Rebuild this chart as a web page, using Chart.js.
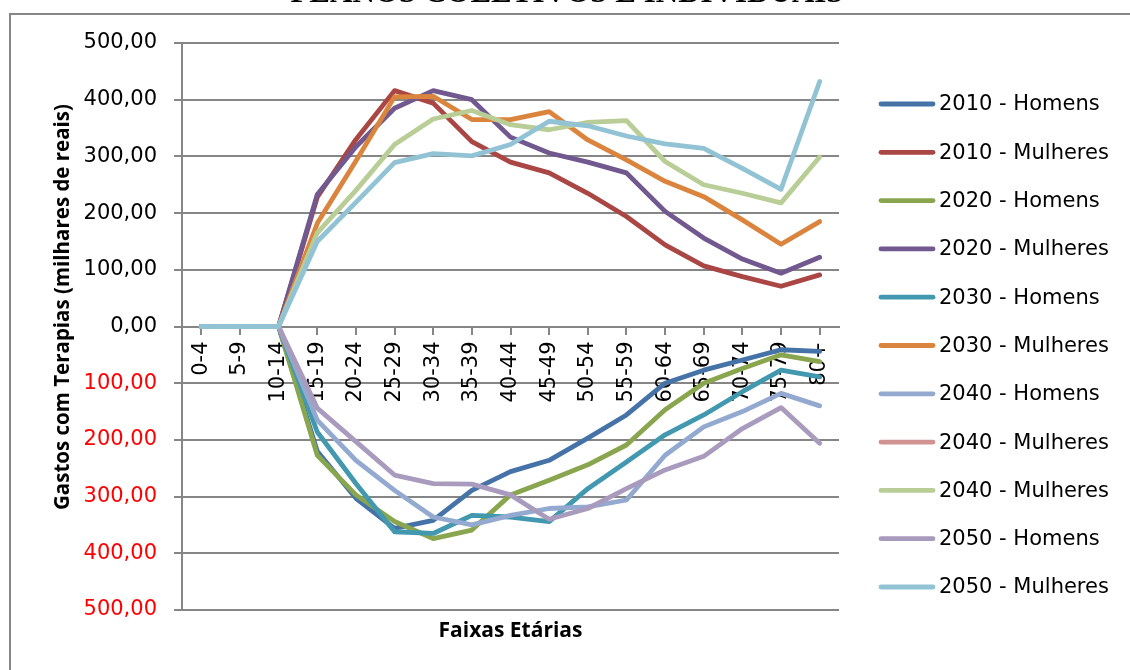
<!DOCTYPE html>
<html>
<head>
<meta charset="utf-8">
<script src="https://cdn.jsdelivr.net/npm/chart.js@4"></script>
<style>
  html, body { margin: 0; padding: 0; background: #fff; }
  #wrap { width: 1130px; height: 670px; position: relative; }
</style>
</head>
<body>
<div id="wrap"><canvas id="chart"></canvas></div>
<script>
// Faixas etárias
const faixas = ['0-4', '5-9', '10-14', '15-19', '20-24', '25-29', '30-34', '35-39', '40-44',
  '45-49', '50-54', '55-59', '60-64', '65-69', '70-74', '75-79', '80+'];

// Gastos (milhares de reais); homens abaixo do eixo
const h2010 = [0, 0, 0, -220, -303, -356, -342, -289, -256, -236, -197, -156, -100, -77, -59, -41, -44];
const m2010 = [0, 0, 0, 228, 330, 416, 394, 326, 290, 271, 235, 194, 144, 107, 88, 71, 91];
const h2020 = [0, 0, 0, -227, -297, -344, -374, -359, -297, -271, -244, -209, -147, -100, -74, -50, -62];
const m2020 = [0, 0, 0, 233, 317, 385, 416, 400, 334, 306, 290, 271, 203, 156, 119, 94, 122];
const h2030 = [0, 0, 0, -186, -277, -362, -365, -333, -336, -344, -286, -239, -191, -156, -115, -77, -89];
const m2030 = [0, 0, 0, 182, 292, 405, 406, 365, 365, 379, 329, 294, 256, 229, 188, 145, 185];
const h2040 = [0, 0, 0, -165, -236, -289, -336, -350, -333, -321, -318, -306, -227, -177, -150, -118, -140];
const m2040a = [];
const m2040 = [0, 0, 0, 165, 240, 321, 366, 381, 356, 347, 360, 363, 291, 250, 235, 218, 299];
const h2050 = [0, 0, 0, -144, -203, -262, -277, -278, -297, -340, -321, -286, -253, -229, -180, -143, -206];
const m2050 = [0, 0, 0, 150, 219, 289, 305, 301, 321, 362, 354, 336, 322, 314, 279, 242, 432];

const series = [
  { label: '2010 - Homens', data: h2010, color: '#4572A7' },
  { label: '2010 - Mulheres', data: m2010, color: '#AA4643' },
  { label: '2020 - Homens', data: h2020, color: '#89A54E' },
  { label: '2020 - Mulheres', data: m2020, color: '#71588F' },
  { label: '2030 - Homens', data: h2030, color: '#4198AF' },
  { label: '2030 - Mulheres', data: m2030, color: '#DB843D' },
  { label: '2040 - Homens', data: h2040, color: '#93A9CF' },
  { label: '2040 - Mulheres', data: m2040a, color: '#D19392' },
  { label: '2040 - Mulheres', data: m2040, color: '#B9CD96' },
  { label: '2050 - Homens', data: h2050, color: '#A99BBD' },
  { label: '2050 - Mulheres', data: m2050, color: '#91C3D5' }
];

const GRID = '#868686';
const FONT = 'DejaVu Sans';
const TITLE_FONT = 'Open Sans';

// frame, titles and legend drawn around the plot
const decor = {
  id: 'decor',
  beforeDraw(chart) {
    const ctx = chart.ctx;
    ctx.save();
    ctx.fillStyle = '#fff';
    ctx.fillRect(0, 0, chart.width, chart.height);
    ctx.strokeStyle = GRID;
    ctx.lineWidth = 2;
    ctx.beginPath();
    ctx.moveTo(10, chart.height + 5);
    ctx.lineTo(10, 14);
    ctx.lineTo(chart.width + 5, 14);
    ctx.stroke();
    // document heading, mostly above the page
    ctx.fillStyle = '#000';
    ctx.font = 'bold 31px "Liberation Serif"';
    ctx.textAlign = 'center';
    ctx.textBaseline = 'alphabetic';
    ctx.fillText('PLANOS COLETIVOS E INDIVIDUAIS', 567, 2);
    ctx.restore();
  },
  afterDraw(chart) {
    const ctx = chart.ctx;
    const area = chart.chartArea;
    ctx.save();
    ctx.fillStyle = '#000';
    ctx.textBaseline = 'middle';
    ctx.textAlign = 'center';
    ctx.font = 'bold 21px "' + TITLE_FONT + '"';
    ctx.fillText('Faixas Etárias', (area.left + area.right) / 2, 631);
    ctx.translate(63, 307);
    ctx.rotate(-Math.PI / 2);
    ctx.font = 'bold 20.5px "' + TITLE_FONT + '"';
    ctx.fillText('Gastos com Terapias (milhares de reais)', 0, 0, 476);
    ctx.restore();

    // legend
    ctx.save();
    ctx.font = '21px "' + FONT + '"';
    ctx.textAlign = 'left';
    ctx.textBaseline = 'middle';
    ctx.lineCap = 'round';
    chart.data.datasets.forEach((ds, i) => {
      const y = 104 + i * 48.3;
      ctx.strokeStyle = ds.borderColor;
      ctx.lineWidth = 4.8;
      ctx.beginPath();
      ctx.moveTo(881, y);
      ctx.lineTo(933, y);
      ctx.stroke();
      ctx.fillStyle = '#000';
      ctx.fillText(ds.label, 939, y + 1);
    });
    ctx.restore();
  }
};

const n = series.length;
new Chart(document.getElementById('chart'), {
  type: 'line',
  data: {
    labels: faixas,
    datasets: series.map((s, i) => ({
      label: s.label,
      data: s.data,
      borderColor: s.color,
      backgroundColor: s.color,
      borderWidth: 4.8,
      borderCapStyle: 'round',
      borderJoinStyle: 'round',
      pointRadius: 0,
      tension: 0,
      fill: false,
      order: n - 1 - i
    }))
  },
  options: {
    responsive: true,
    maintainAspectRatio: false,
    animation: false,
    layout: { padding: { left: 9, right: 291, top: 43, bottom: 60 } },
    plugins: {
      legend: { display: false },
      tooltip: { enabled: false }
    },
    scales: {
      x: {
        position: { y: 0 },
        offset: true,
        grid: {
          display: true,
          drawOnChartArea: false,
          drawTicks: true,
          tickLength: 7,
          color: GRID,
          lineWidth: 2
        },
        border: { display: true, color: GRID, width: 2 },
        ticks: {
          autoSkip: false,
          minRotation: 90,
          maxRotation: 90,
          padding: 8,
          color: '#000',
          font: { family: FONT, size: 21 }
        }
      },
      y: {
        min: -500,
        max: 500,
        afterFit(scale) { scale.width = 173; },
        grid: {
          color: GRID,
          lineWidth: 2,
          tickLength: 8
        },
        border: { display: true, color: GRID, width: 2 },
        ticks: {
          stepSize: 100,
          padding: 17,
          font: { family: FONT, size: 21 },
          color: c => (c.tick && c.tick.value < 0 ? '#FF0000' : '#000'),
          callback: v => Math.abs(v).toFixed(2).replace('.', ',')
        }
      }
    }
  },
  plugins: [decor]
});
</script>
</body>
</html>
